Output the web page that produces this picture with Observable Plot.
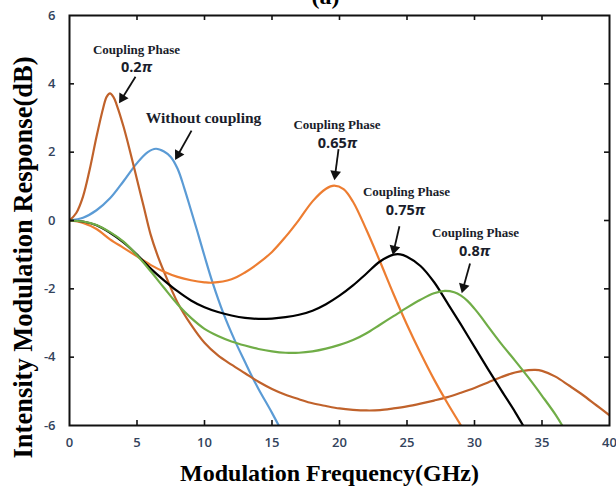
<!DOCTYPE html>
<html>
<head>
<meta charset="utf-8">
<script src="https://cdn.jsdelivr.net/npm/d3@7"></script>
<script src="https://cdn.jsdelivr.net/npm/@observablehq/plot@0.6"></script>
<style>
  html, body { margin: 0; padding: 0; background: #fff; }
  #chart { width: 616px; height: 498px; overflow: hidden; }
</style>
</head>
<body>
<div id="chart"></div>
<script>
// ---- Data ----
const xTicks = [0, 5, 10, 15, 20, 25, 30, 35, 40];
const yTicks = [-6, -4, -2, 0, 2, 4, 6];

const freqBlue = [0, 1, 2, 3, 4, 5, 5.8, 6.4, 7, 7.5, 8, 8.5, 9, 9.5, 10, 10.6, 11.4, 12.3, 13, 13.5, 14, 15, 15.5];
const dbBlue   = [0, 0.08, 0.3, 0.65, 1.15, 1.68, 2.0, 2.1, 2.02, 1.86, 1.52, 0.95, 0.3, -0.36, -1.04, -1.82, -2.72, -3.56, -4.14, -4.55, -4.93, -5.63, -6];

const freqBrown = [0, 0.5, 1, 1.5, 2, 2.5, 2.75, 3, 3.25, 3.5, 4, 4.5, 5, 5.5, 6, 6.5, 7, 8, 9, 10, 11, 12, 13, 14, 15, 16, 17, 18, 19, 20, 21, 22, 23, 24, 25, 26, 27, 28, 29, 30, 31, 32, 33, 34, 34.5, 35, 36, 37, 38, 39, 40];
const dbBrown   = [0, 0.22, 0.7, 1.5, 2.45, 3.3, 3.62, 3.72, 3.62, 3.38, 2.75, 2.0, 1.2, 0.4, -0.4, -1.0, -1.5, -2.4, -3.05, -3.58, -3.95, -4.22, -4.47, -4.72, -4.93, -5.1, -5.23, -5.35, -5.43, -5.5, -5.54, -5.56, -5.55, -5.5, -5.44, -5.36, -5.27, -5.17, -5.04, -4.9, -4.74, -4.58, -4.45, -4.38, -4.37, -4.4, -4.57, -4.83, -5.1, -5.4, -5.7];

const freqOrange = [0, 1, 2, 3, 4, 5, 6, 7, 8, 9, 10, 10.6, 12, 13, 14, 15, 16, 17, 18, 19, 19.6, 20.3, 21, 22, 23, 24, 25, 26, 27, 28, 29];
const dbOrange   = [0, -0.07, -0.25, -0.55, -0.8, -1.05, -1.3, -1.5, -1.65, -1.75, -1.81, -1.82, -1.72, -1.52, -1.25, -0.92, -0.48, 0.02, 0.56, 0.93, 1.02, 0.92, 0.55, -0.28, -1.2, -2.15, -3.05, -3.88, -4.65, -5.35, -6];

const freqBlack = [0, 1, 2, 3, 4, 5, 6, 7, 8, 9, 10, 11, 12, 13, 14, 15, 16, 17, 18, 19, 20, 21, 22, 23, 24, 24.5, 25, 26, 27, 28, 29, 30, 31, 32, 33, 33.6];
const dbBlack   = [0, -0.03, -0.14, -0.36, -0.64, -1.0, -1.4, -1.75, -2.07, -2.34, -2.54, -2.68, -2.78, -2.85, -2.88, -2.87, -2.83, -2.76, -2.64, -2.45, -2.2, -1.9, -1.55, -1.2, -1.0, -0.99, -1.06, -1.33, -1.8, -2.42, -3.05, -3.7, -4.35, -4.98, -5.6, -6];

const freqGreen = [0, 1, 2, 3, 4, 5, 6, 7, 8, 9, 10, 11, 12, 13, 14, 15, 16, 17, 18, 19, 20, 21, 22, 23, 24, 25, 26, 27, 27.8, 28.5, 29, 29.5, 30, 30.5, 31, 32, 33, 34, 35, 36, 36.5];
const dbGreen   = [0, -0.03, -0.13, -0.34, -0.62, -1.02, -1.48, -1.97, -2.45, -2.85, -3.17, -3.38, -3.54, -3.66, -3.76, -3.83, -3.87, -3.87, -3.83, -3.75, -3.64, -3.5, -3.3, -3.05, -2.8, -2.55, -2.32, -2.13, -2.06, -2.1, -2.2, -2.36, -2.58, -2.83, -3.1, -3.62, -4.1, -4.6, -5.13, -5.68, -6];

const seriesNames  = ["Without coupling", "0.2π", "0.65π", "0.75π", "0.8π"];
const seriesColors = ["#5b9bd5", "#c0622b", "#ed7d31", "#000000", "#70ad47"];

// annotations: label text and anchor in data units
const phaseTitles = ["Coupling Phase", "Coupling Phase", "Coupling Phase", "Coupling Phase"];
const phaseTitlePos = [[4.96, 5.0], [19.81, 2.8], [24.96, 0.85], [30.07, -0.37]];
const phaseValues = ["0.2π", "0.65π", "0.75π", "0.8π"];
const phaseValuePos = [[4.96, 4.49], [19.85, 2.27], [24.89, 0.31], [30.0, -0.89]];
const noCouplingLabel = ["Without coupling"];
const noCouplingPos = [[9.93, 3.01]];
const arrowStarts = [[4.89, 4.21], [9.04, 2.63], [19.93, 2.09], [24.44, -0.17], [29.67, -1.26]];
const arrowEnds   = [[3.70, 3.45], [7.85, 1.79], [19.63, 1.20], [23.96, -0.99], [29.07, -2.11]];

// ---- Layout shared by passes ----
const layout = {
  width: 616, height: 498,
  marginLeft: 69, marginRight: 7, marginTop: 15, marginBottom: 73,
  x: {domain: [0, 40], axis: null},
  y: {domain: [-6, 6], axis: null}
};
// scales (used to orient filled arrowheads)
const probe = Plot.plot({...layout, marks: [Plot.frame()]});
const sx = probe.scale("x"), sy = probe.scale("y");

// ---- Build tables ----
const toRows = (fs, vs) => fs.map((f, i) => ({f, v: vs[i]}));
const lines = [
  toRows(freqBlue, dbBlue),
  toRows(freqBrown, dbBrown),
  toRows(freqOrange, dbOrange),
  toRows(freqBlack, dbBlack),
  toRows(freqGreen, dbGreen)
];
const headBack = 5.5; // px from tip to head centroid
const arrows = arrowStarts.map((s, i) => {
  const e = arrowEnds[i];
  const px1 = sx.apply(s[0]), py1 = sy.apply(s[1]);
  const px2 = sx.apply(e[0]), py2 = sy.apply(e[1]);
  const len = Math.hypot(px2 - px1, py2 - py1);
  const ux = (px2 - px1) / len, uy = (py2 - py1) / len;
  const cx = px2 - ux * headBack, cy = py2 - uy * headBack;
  return {
    x1: s[0], y1: s[1],
    hx: sx.invert(cx), hy: sy.invert(cy),
    angle: Math.atan2(ux, -uy) * 180 / Math.PI
  };
});

const serif = "'Liberation Serif', 'Times New Roman', serif";
const sans = "'Open Sans', 'Noto Sans', sans-serif";
const tickColor = "#33435c";
const annoColor = "#1a1d2b";

const marks = [];
lines.forEach((rows, i) => {
  marks.push(Plot.line(rows, {x: "f", y: "v", stroke: seriesColors[i], strokeWidth: 2.2, curve: "catmull-rom", clip: true}));
});
marks.push(Plot.frame({stroke: "#111", strokeWidth: 2}));
marks.push(Plot.ruleX(xTicks.slice(1, -1), {x: d => d, insetTop: 405, stroke: "#111", strokeWidth: 1.6}));
marks.push(Plot.ruleX(xTicks.slice(1, -1), {x: d => d, insetBottom: 405, stroke: "#111", strokeWidth: 1.6}));
marks.push(Plot.ruleY(yTicks.slice(1, -1), {y: d => d, insetLeft: 535, stroke: "#111", strokeWidth: 1.6}));
marks.push(Plot.ruleY(yTicks.slice(1, -1), {y: d => d, insetRight: 535, stroke: "#111", strokeWidth: 1.6}));
marks.push(Plot.text(xTicks, {x: d => d, frameAnchor: "bottom", dy: 21, text: d => String(d), fontFamily: sans, fontWeight: 600, fontSize: 13, fill: tickColor}));
marks.push(Plot.text(yTicks, {y: d => d, frameAnchor: "left", dx: -14, textAnchor: "end", text: d => String(d), fontFamily: sans, fontWeight: 600, fontSize: 13, fill: tickColor}));
marks.push(Plot.text(["Modulation Frequency(GHz)"], {frameAnchor: "bottom", dx: -10, dy: 55, text: d => d, fontFamily: serif, fontWeight: "bold", fontSize: 24, fill: "#000"}));
marks.push(Plot.text(["Intensity Modulation Response(dB)"], {frameAnchor: "left", textAnchor: "middle", rotate: -90, dx: -46, dy: 37, text: d => d, fontFamily: serif, fontWeight: "bold", fontSize: 26.5, fill: "#000"}));
marks.push(Plot.text(["(a)"], {frameAnchor: "top", dx: -14, dy: -29, text: d => d, fontFamily: serif, fontWeight: "bold", fontSize: 24, fill: "#000"}));
marks.push(Plot.text(phaseTitles, {x: (d, i) => phaseTitlePos[i][0], y: (d, i) => phaseTitlePos[i][1], text: d => d, fontFamily: serif, fontWeight: "bold", fontSize: 13, fill: annoColor}));
marks.push(Plot.text(phaseValues, {x: (d, i) => phaseValuePos[i][0], y: (d, i) => phaseValuePos[i][1], text: d => d, fontFamily: sans, fontWeight: 700, fontSize: 14.5, fill: annoColor}));
marks.push(Plot.text(noCouplingLabel, {x: (d, i) => noCouplingPos[i][0], y: (d, i) => noCouplingPos[i][1], text: d => d, fontFamily: serif, fontWeight: "bold", fontSize: 15.5, fill: annoColor}));
marks.push(Plot.link(arrows, {x1: "x1", y1: "y1", x2: "hx", y2: "hy", stroke: "#111", strokeWidth: 1.8}));
marks.push(Plot.dot(arrows, {x: "hx", y: "hy", rotate: "angle", symbol: "triangle", r: 4, fill: "#111", stroke: "none"}));

const chart = Plot.plot({...layout, style: {background: "#fff", overflow: "hidden"}, marks});

// italic π as in the reference
d3.select(chart).selectAll("text").each(function () {
  const t = this.textContent;
  if (this.childElementCount === 0 && t.length > 1 && t.endsWith("π")) {
    this.textContent = t.slice(0, -1);
    d3.select(this).append("tspan").attr("font-style", "italic").text("π");
  }
});
document.getElementById("chart").appendChild(chart);
</script>
</body>
</html>
